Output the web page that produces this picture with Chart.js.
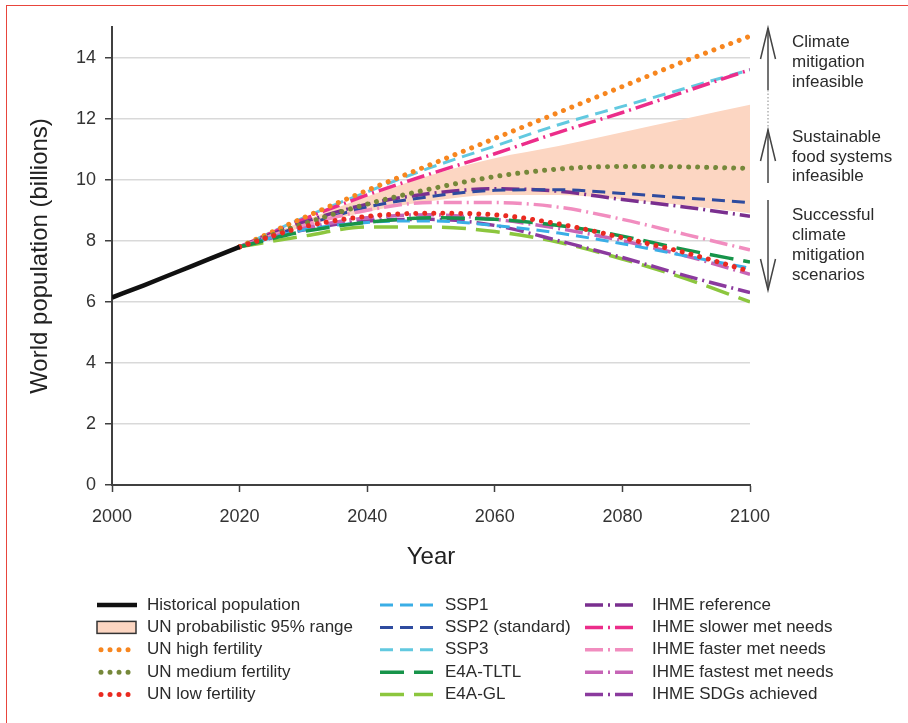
<!DOCTYPE html>
<html>
<head>
<meta charset="utf-8">
<title>World population projections</title>
<script src="https://cdn.jsdelivr.net/npm/chart.js@4.4.0/dist/chart.umd.min.js"></script>
<style>
  html, body { margin: 0; padding: 0; background: #fff; }
  #wrap { position: relative; width: 908px; height: 723px; overflow: hidden; }
  #frame {
    position: absolute; left: 6px; top: 5px; right: -10px; bottom: -10px;
    border-left: 1.5px solid #e8453c; border-top: 1.5px solid #e8453c;
    pointer-events: none;
  }
</style>
</head>
<body>
<div id="wrap">
  <canvas id="popChart" width="908" height="723"></canvas>
  <div id="frame"></div>
</div>

<script>
// Years
const histYears = [2000, 2005, 2010, 2015, 2020];
const projYears = [2020, 2030, 2040, 2050, 2060, 2070, 2080, 2090, 2100];

// Axis ticks
const xTicks = [2000, 2020, 2040, 2060, 2080, 2100];
const yTicks = [0, 2, 4, 6, 8, 10, 12, 14];

// World population (billions)
const historical   = [6.14, 6.54, 6.96, 7.38, 7.80];
const unLower95    = [7.8, 8.45, 8.95, 9.3, 9.5, 9.5, 9.35, 9.15, 8.9];
const unUpper95    = [7.8, 8.65, 9.45, 10.15, 10.7, 11.1, 11.55, 12.0, 12.45];
const unHigh       = [7.8, 8.75, 9.65, 10.5, 11.35, 12.2, 13.05, 13.9, 14.7];
const unMedium     = [7.8, 8.55, 9.2, 9.7, 10.1, 10.35, 10.43, 10.42, 10.37];
const unLow        = [7.8, 8.45, 8.8, 8.9, 8.85, 8.55, 8.1, 7.6, 7.0];
const ssp1         = [7.8, 8.35, 8.6, 8.65, 8.5, 8.25, 7.9, 7.5, 7.1];
const ssp2         = [7.8, 8.5, 9.1, 9.45, 9.65, 9.67, 9.55, 9.4, 9.25];
const ssp3         = [7.8, 8.75, 9.6, 10.4, 11.1, 11.8, 12.4, 13.0, 13.6];
const e4aTLTL      = [7.8, 8.3, 8.6, 8.75, 8.7, 8.5, 8.15, 7.7, 7.3];
const e4aGL        = [7.8, 8.15, 8.45, 8.45, 8.3, 7.95, 7.4, 6.75, 6.0];
const ihmeRef      = [7.8, 8.6, 9.2, 9.55, 9.7, 9.62, 9.35, 9.1, 8.8];
const ihmeSlower   = [7.8, 8.7, 9.5, 10.2, 10.85, 11.55, 12.2, 12.9, 13.6];
const ihmeFaster   = [7.8, 8.5, 9.0, 9.25, 9.25, 9.1, 8.7, 8.2, 7.7];
const ihmeFastest  = [7.8, 8.4, 8.75, 8.85, 8.7, 8.4, 8.0, 7.5, 6.9];
const ihmeSDG      = [7.8, 8.35, 8.65, 8.7, 8.5, 8.0, 7.45, 6.85, 6.3];

// Legend columns (top to bottom)
const legendColumns = [
  ["Historical population", "UN probabilistic 95% range", "UN high fertility", "UN medium fertility", "UN low fertility"],
  ["SSP1", "SSP2 (standard)", "SSP3", "E4A-TLTL", "E4A-GL"],
  ["IHME reference", "IHME slower met needs", "IHME faster met needs", "IHME fastest met needs", "IHME SDGs achieved"]
];

const FONT = "'Liberation Sans', Arial, Helvetica, sans-serif";
Chart.defaults.font.family = FONT;
Chart.defaults.color = "#333";

const DOTS = [0.01, 9];
const SSP_DASH = [13, 7];
const E4A_DASH = [24, 10];
const IHME_DASH = [18, 5, 2, 5];

function pts(years, values) {
  return years.map((yr, i) => ({ x: yr, y: values[i] }));
}

function line(label, years, values, color, dash, width, cap) {
  return {
    label: label,
    data: pts(years, values),
    borderColor: color,
    borderWidth: width,
    borderDash: dash,
    borderCapStyle: cap || "butt",
    pointRadius: 0,
    fill: false,
    cubicInterpolationMode: "monotone"
  };
}

// first dataset ends up on top
const datasets = [
  line("Historical population", histYears, historical, "#111111", [], 4.5),
  line("UN low fertility", projYears, unLow, "#ea2a20", DOTS, 5, "round"),
  line("UN medium fertility", projYears, unMedium, "#76883a", DOTS, 5, "round"),
  line("UN high fertility", projYears, unHigh, "#f7861f", DOTS, 5, "round"),
  line("E4A-TLTL", projYears, e4aTLTL, "#17944a", E4A_DASH, 3.5),
  line("SSP1", projYears, ssp1, "#3aaee6", SSP_DASH, 3),
  line("IHME fastest met needs", projYears, ihmeFastest, "#c664b6", IHME_DASH, 3.5),
  line("IHME SDGs achieved", projYears, ihmeSDG, "#8b3a9e", IHME_DASH, 3.5),
  line("E4A-GL", projYears, e4aGL, "#8cc63e", E4A_DASH, 3.5),
  line("IHME faster met needs", projYears, ihmeFaster, "#f18dbf", IHME_DASH, 3.5),
  line("SSP2 (standard)", projYears, ssp2, "#2e4b9f", SSP_DASH, 3),
  line("IHME reference", projYears, ihmeRef, "#7a2f8f", IHME_DASH, 3.5),
  line("IHME slower met needs", projYears, ihmeSlower, "#ec2d8a", IHME_DASH, 3.5),
  line("SSP3", projYears, ssp3, "#62c9e0", SSP_DASH, 3),
  {
    label: "_un95lower",
    data: pts(projYears, unLower95),
    borderColor: "rgba(0,0,0,0)",
    borderWidth: 1,
    pointRadius: 0,
    fill: false,
    cubicInterpolationMode: "monotone",
    order: 20
  },
  {
    label: "UN probabilistic 95% range",
    data: pts(projYears, unUpper95),
    borderColor: "rgba(0,0,0,0)",
    borderWidth: 1,
    backgroundColor: "#fcd6c2",
    pointRadius: 0,
    fill: "-1",
    cubicInterpolationMode: "monotone",
    order: 20
  }
];

// Custom legend in three columns
const columnLegend = {
  id: "columnLegend",
  afterDraw(chart) {
    const ctx = chart.ctx;
    const cols = [
      { x0: 97, x1: 137, tx: 147 },
      { x0: 380, x1: 433, tx: 445 },
      { x0: 585, x1: 633, tx: 652 }
    ];
    const rowTop = 605;
    const rowStep = 22.4;

    ctx.save();
    ctx.font = "17px " + FONT;
    ctx.textBaseline = "middle";
    ctx.textAlign = "left";

    legendColumns.forEach((labels, c) => {
      const col = cols[c];
      labels.forEach((label, r) => {
        const ds = chart.data.datasets.find(d => d.label === label);
        const y = rowTop + r * rowStep;
        if (ds.fill) {
          ctx.setLineDash([]);
          ctx.fillStyle = ds.backgroundColor;
          ctx.fillRect(col.x0, y - 6, col.x1 - col.x0 - 1, 12);
          ctx.strokeStyle = "#333";
          ctx.lineWidth = 1.5;
          ctx.strokeRect(col.x0, y - 6, col.x1 - col.x0 - 1, 12);
        } else {
          ctx.strokeStyle = ds.borderColor;
          ctx.lineWidth = ds.borderWidth;
          ctx.lineCap = ds.borderCapStyle;
          ctx.setLineDash(ds.borderDash);
          const start = ds.borderCapStyle === "round" ? col.x0 + 4 : col.x0;
          ctx.beginPath();
          ctx.moveTo(start, y);
          ctx.lineTo(col.x1, y);
          ctx.stroke();
        }
        ctx.fillStyle = "#2b2b2b";
        ctx.fillText(label, col.tx, y);
      });
    });
    ctx.restore();
  }
};

// Arrows and notes on the right side
const sideNotes = {
  id: "sideNotes",
  afterDraw(chart) {
    const ctx = chart.ctx;
    const ax = chart.chartArea.right + 18;
    const tx = chart.chartArea.right + 42;

    function head(tipY, dir) {
      ctx.beginPath();
      ctx.moveTo(ax - 7.5, tipY + dir * 31);
      ctx.lineTo(ax, tipY);
      ctx.lineTo(ax + 7.5, tipY + dir * 31);
      ctx.stroke();
    }

    ctx.save();
    ctx.strokeStyle = "#444";
    ctx.lineWidth = 1.5;
    ctx.lineJoin = "miter";

    // climate mitigation infeasible
    ctx.beginPath();
    ctx.moveTo(ax, 28);
    ctx.lineTo(ax, 90);
    ctx.stroke();
    head(28, 1);

    ctx.save();
    ctx.lineWidth = 1;
    ctx.strokeStyle = "#888";
    ctx.setLineDash([1.5, 2]);
    ctx.beginPath();
    ctx.moveTo(ax, 90);
    ctx.lineTo(ax, 130);
    ctx.stroke();
    ctx.restore();

    // sustainable food systems infeasible
    ctx.beginPath();
    ctx.moveTo(ax, 130);
    ctx.lineTo(ax, 183);
    ctx.stroke();
    head(130, 1);

    // successful climate mitigation
    ctx.beginPath();
    ctx.moveTo(ax, 200);
    ctx.lineTo(ax, 290);
    ctx.stroke();
    head(290, -1);

    ctx.fillStyle = "#2b2b2b";
    ctx.font = "17px " + FONT;
    ctx.textAlign = "left";
    ctx.textBaseline = "middle";
    const notes = [
      ["Climate", 42], ["mitigation", 62], ["infeasible", 82],
      ["Sustainable", 137], ["food systems", 157], ["infeasible", 176],
      ["Successful", 215], ["climate", 235], ["mitigation", 255], ["scenarios", 275]
    ];
    notes.forEach(n => ctx.fillText(n[0], tx, n[1]));
    ctx.restore();
  }
};

const ctx = document.getElementById("popChart").getContext("2d");

const chart = new Chart(ctx, {
  type: "line",
  data: { datasets: datasets },
  options: {
    responsive: false,
    animation: false,
    layout: { padding: { left: 0, right: 158, top: 27, bottom: 148 } },
    plugins: {
      legend: { display: false },
      tooltip: { enabled: false }
    },
    scales: {
      x: {
        type: "linear",
        min: 2000,
        max: 2100,
        afterBuildTicks: scale => { scale.ticks = xTicks.map(v => ({ value: v })); },
        afterFit: scale => { scale.height = 90; },
        grid: { drawOnChartArea: false, tickLength: 7, tickColor: "#404040", tickWidth: 1.5 },
        border: { color: "#404040", width: 2 },
        ticks: { font: { size: 18 }, color: "#333", padding: 14, maxRotation: 0, callback: v => String(v) },
        title: { display: true, text: "Year", font: { size: 24 }, color: "#222", padding: { top: 0, bottom: 3 } }
      },
      y: {
        min: 0,
        max: 15,
        afterBuildTicks: scale => { scale.ticks = yTicks.map(v => ({ value: v })); },
        afterFit: scale => { scale.width = 112; },
        grid: { color: "#d9d9d9", lineWidth: 1.5, tickLength: 7, tickColor: "#404040", tickWidth: 1.5 },
        border: { color: "#404040", width: 2 },
        ticks: { font: { size: 18 }, color: "#333", padding: 9, callback: v => String(v) },
        title: { display: true, text: "World population (billions)", font: { size: 24 }, color: "#222", padding: { top: 26, bottom: 0 } }
      }
    }
  },
  plugins: [columnLegend, sideNotes]
});
</script>
</body>
</html>
